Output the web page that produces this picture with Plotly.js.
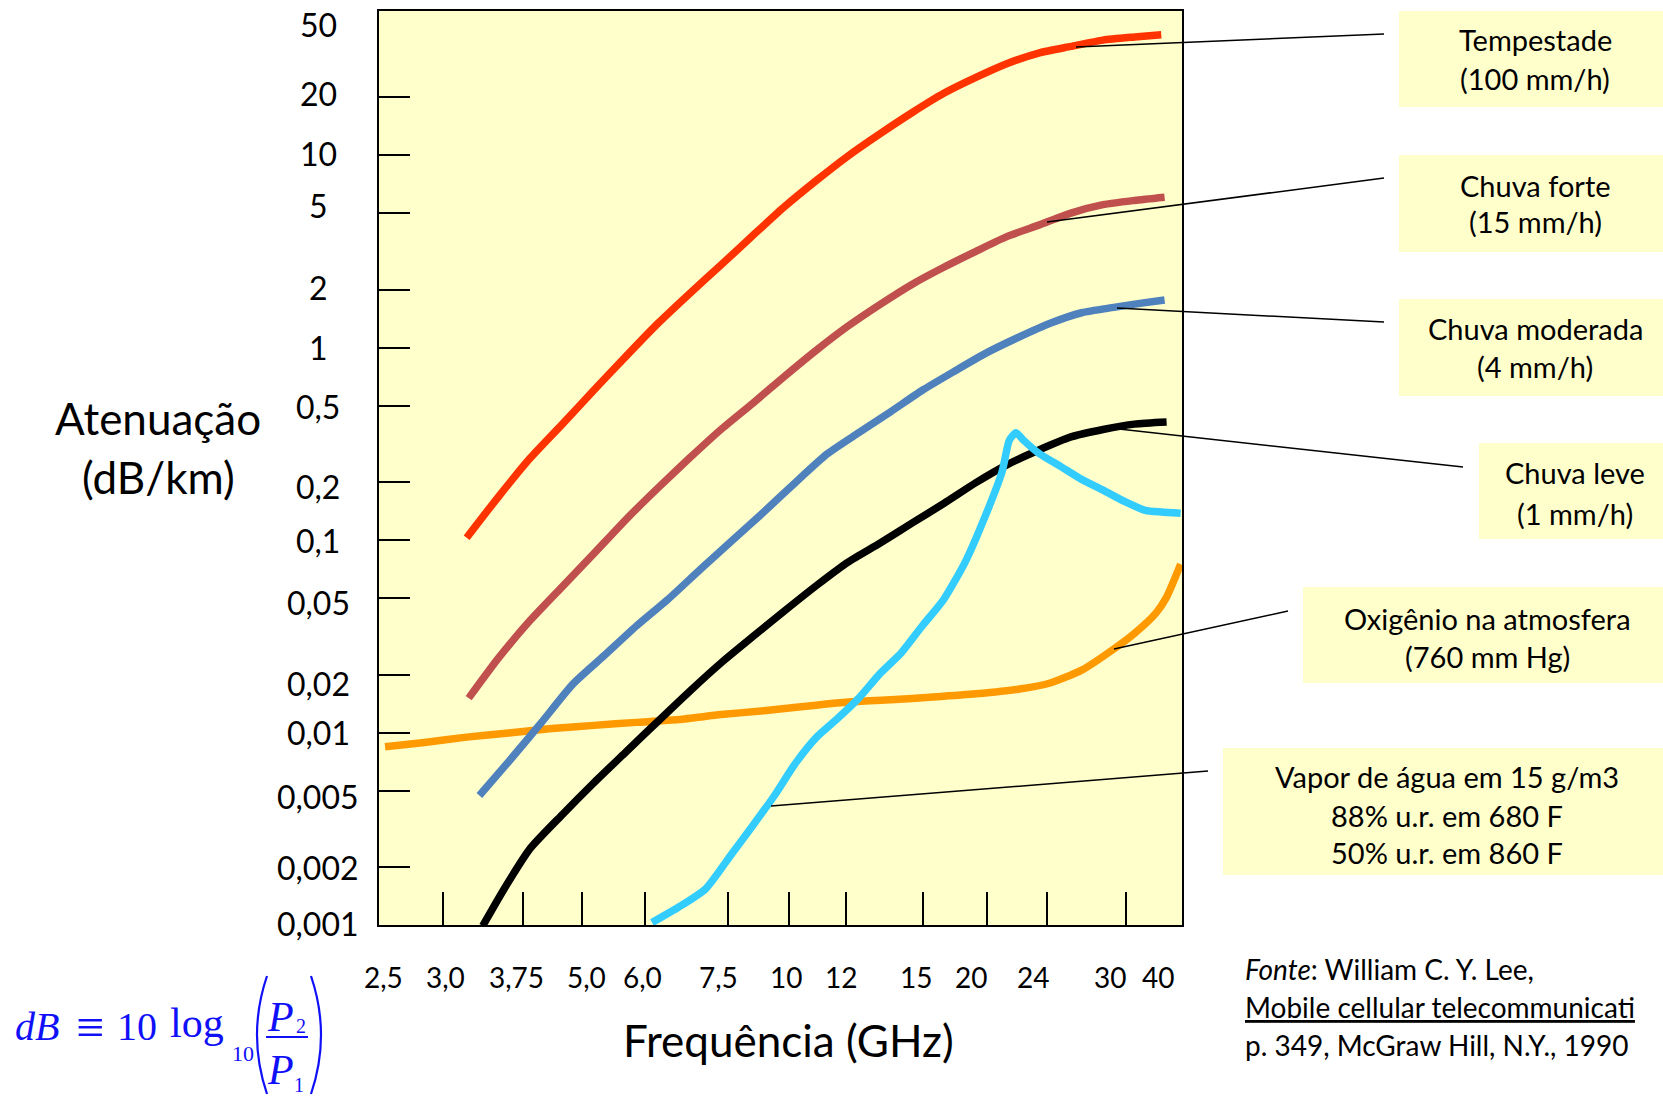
<!DOCTYPE html>
<html>
<head>
<meta charset="utf-8">
<script src="https://cdn.plot.ly/plotly-3.0.1.min.js"></script>
<style>html,body{margin:0;padding:0;background:#fff;}#chart{width:1663px;height:1096px;}</style>
</head>
<body>
<div id="chart"></div>
<script>
// ---------------- DATA ----------------
// x axis: ordinal frequency scale (position units, 2,5 GHz = 0 ... 40 GHz = 12)
const freqLabels = ['2,5','3,0','3,75','5,0','6,0','7,5','10','12','15','20','24','30','40'];
const yTickLabels = ['50','20','10','5','2','1','0,5','0,2','0,1','0,05','0,02','0,01','0,005','0,002','0,001'];
const yTickValues = [50,20,10,5,2,1,0.5,0.2,0.1,0.05,0.02,0.01,0.005,0.002,0.001];
const yMarkValues = [20,10,5,2,1,0.5,0.2,0.1,0.05,0.02,0.01,0.005,0.002];

const tempestadeX = [1.31,1.79,2.26,2.74,3.21,3.69,4.17,4.64,5.11,5.59,6.06,6.54,7.01,7.49,7.97,8.44,8.92,9.39,9.87,10.34,10.82,11.29,11.69];
const tempestadeY = [0.103,0.169,0.267,0.401,0.601,0.902,1.34,1.91,2.69,3.84,5.41,7.42,9.93,12.97,16.7,21.0,25.4,30.0,34.1,36.8,39.7,41.2,42.3];

const fortesX = [1.34,1.79,2.26,2.74,3.21,3.69,4.17,4.64,5.11,5.59,6.06,6.54,7.01,7.49,7.97,8.44,8.92,9.39,9.87,10.34,10.82,11.29,11.74];
const fortesY = [0.0151,0.0245,0.0383,0.0574,0.0851,0.128,0.187,0.267,0.376,0.516,0.710,0.973,1.296,1.681,2.14,2.62,3.17,3.79,4.35,5.01,5.54,5.83,6.06];

const moderadaX = [1.50,1.94,2.42,2.90,3.37,3.85,4.32,4.80,5.27,5.75,6.22,6.70,7.17,7.65,8.12,8.60,9.07,9.55,10.03,10.50,10.98,11.37,11.74];
const moderadaY = [0.00471,0.00708,0.0112,0.0179,0.0252,0.0359,0.0493,0.0704,0.0991,0.140,0.199,0.281,0.362,0.466,0.601,0.755,0.937,1.13,1.34,1.52,1.62,1.70,1.77];

const leveX = [1.55,1.87,2.26,2.74,3.21,3.69,4.17,4.64,5.11,5.59,6.06,6.54,7.01,7.49,7.97,8.44,8.92,9.39,9.87,10.34,10.82,11.29,11.77];
const leveY = [0.00099,0.00154,0.00250,0.00375,0.00548,0.00793,0.01146,0.01637,0.0230,0.0316,0.0429,0.0582,0.0769,0.0966,0.123,0.155,0.199,0.247,0.295,0.344,0.376,0.401,0.411];

const vaporX = [4.08,4.48,4.88,5.27,5.59,5.91,6.22,6.54,6.86,7.17,7.49,7.81,8.12,8.44,8.76,9.07,9.31,9.42,9.52,9.63,9.87,10.19,10.50,10.82,11.14,11.45,11.69,11.98];
const vaporY = [0.00103,0.00124,0.00154,0.00234,0.00330,0.00471,0.00690,0.00948,0.0119,0.0151,0.0203,0.0261,0.0359,0.0493,0.0769,0.136,0.226,0.331,0.362,0.331,0.281,0.241,0.207,0.182,0.159,0.143,0.140,0.138];

const oxigenioX = [0.09,0.68,1.31,1.94,2.58,3.21,3.85,4.48,5.11,5.75,6.38,7.01,7.65,8.28,8.92,9.55,10.03,10.50,10.98,11.29,11.61,11.77,11.98];
const oxigenioY = [0.00845,0.00889,0.00947,0.00996,0.0105,0.0109,0.0113,0.0117,0.0124,0.0130,0.0137,0.0144,0.0148,0.0153,0.0159,0.0168,0.0181,0.0211,0.0272,0.0328,0.0418,0.0506,0.0750];

const seriesNames = ['Tempestade (100 mm/h)','Chuva forte (15 mm/h)','Chuva moderada (4 mm/h)','Chuva leve (1 mm/h)','Oxigênio na atmosfera (760 mm Hg)','Vapor de água em 15 g/m3'];

// ---------------- LAYOUT HELPERS ----------------
const W = 1663, H = 1096;
const L = 379, R = 1182, T = 11, B = 925;
const px = X => (X - L) / (R - L);
const py = Y => (B - Y) / (B - T);
const FONT = 'Lato, "Open Sans", sans-serif';

// tick-mark and label positions of the hand-drawn axis (position units)
const xMarkPos = [0.95,2.15,3.04,3.98,5.21,6.12,6.98,8.13,9.09,9.98,11.17];
const xLabelPos = [0.06,0.99,2.05,3.10,3.94,5.08,6.08,6.90,8.02,8.85,9.77,10.93,11.64];
// small hand-placement offsets of the y labels in the original (pixels, up = +)
const yLabelShift = [-4,4,2,8,2,0,-1,-4,0,-4,-9,0,-6,0,2];

function line(x, y, color, name) {
  return {x: x, y: y, type: 'scatter', mode: 'lines', name: name,
          line: {color: color, width: 7.5, shape: 'spline', smoothing: 0.6},
          hoverinfo: 'name+y'};
}
const traces = [
  line(oxigenioX, oxigenioY, '#FF9900', seriesNames[4]),
  line(leveX, leveY, '#000000', seriesNames[3]),
  line(moderadaX, moderadaY, '#4F81BD', seriesNames[2]),
  line(fortesX, fortesY, '#C0504D', seriesNames[1]),
  line(tempestadeX, tempestadeY, '#FF3300', seriesNames[0]),
  line(vaporX, vaporY, '#33CCFF', seriesNames[5])
];

const annotations = [];
const shapes = [];
function txt(X, Y, text, size, opts) {
  const a = Object.assign({xref: 'paper', yref: 'paper', x: px(X), y: py(Y), text: text, showarrow: false,
    xanchor: 'center', yanchor: 'middle', font: {family: FONT, size: size, color: '#000'}}, opts || {});
  annotations.push(a);
}

// y tick labels (centered, as in the original)
yTickValues.forEach((v, i) => {
  annotations.push({xref: 'paper', yref: 'y', x: px(318), y: Math.log10(v), yshift: yLabelShift[i], text: yTickLabels[i],
    showarrow: false, xanchor: 'center', yanchor: 'middle', font: {family: FONT, size: 32, color: '#000'}});
});
// x tick labels
freqLabels.forEach((t, i) => {
  annotations.push({xref: 'x', yref: 'paper', x: xLabelPos[i], y: py(977), text: t,
    showarrow: false, xanchor: 'center', yanchor: 'middle', font: {family: FONT, size: 28, color: '#000'}});
});
// axis titles
txt(158, 418, 'Atenuação', 44);
txt(158, 477, '(dB/km)', 44);
txt(788, 1040, 'Frequência (GHz)', 44);

// label boxes with leader lines
const boxes = [
  {lines: ['Tempestade', '(100 mm/h)'], ly: [40, 79], x0: 1399, y0: 11, y1: 107, cx: 1535, lead: [1076,47,1384,34]},
  {lines: ['Chuva forte', '(15 mm/h)'], ly: [185, 222], x0: 1399, y0: 155, y1: 252, cx: 1535, lead: [1047,222,1384,178]},
  {lines: ['Chuva moderada', '(4 mm/h)'], ly: [328, 366], x0: 1399, y0: 299, y1: 396, cx: 1535, lead: [1117,308,1384,322]},
  {lines: ['Chuva leve', '(1 mm/h)'], ly: [473, 513], x0: 1479, y0: 443, y1: 539, cx: 1575, lead: [1119,429,1463,467]},
  {lines: ['Oxigênio na atmosfera', '(760 mm Hg)'], ly: [618, 656], x0: 1303, y0: 587, y1: 683, cx: 1487, lead: [1114,649,1288,611]},
  {lines: ['Vapor de água em 15 g/m3', '88% u.r. em 680 F', '50% u.r. em 860 F'], ly: [776, 815, 852], x0: 1223, y0: 748, y1: 875, cx: 1447, lead: [771,806,1208,771]}
];
boxes.forEach(b => {
  shapes.push({type: 'rect', xref: 'paper', yref: 'paper', x0: px(b.x0), x1: px(W), y0: py(b.y0), y1: py(b.y1),
    fillcolor: '#FFFFCC', line: {width: 0}, layer: 'below'});
  shapes.push({type: 'line', xref: 'paper', yref: 'paper', x0: px(b.lead[0]), y0: py(b.lead[1]),
    x1: px(b.lead[2]), y1: py(b.lead[3]), line: {color: '#000', width: 1.5}, layer: 'above'});
  b.lines.forEach((t, i) => txt(b.cx, b.ly[i], t, 29));
});

// source (second line is cut by the page edge in the original)
const src = ['<i>Fonte</i>: William C. Y. Lee,', '<u>Mobile cellular telecommunicati</u>', 'p. 349, McGraw Hill, N.Y., 1990'];
[969, 1007, 1045].forEach((yy, i) => txt(1243, yy, src[i], 28, {xanchor: 'left'}));

// dB formula
const BLUE = '#1010F8';
const SERIF = '"Liberation Serif", "DejaVu Serif", serif';
const sf = s => ({family: SERIF, size: s, color: BLUE});
txt(13, 1026, '<i>dB</i>', 40, {xanchor: 'left', font: sf(40)});
txt(90, 1027, '≡', 50, {font: sf(50)});
txt(137, 1026, '10', 40, {font: sf(40)});
txt(197, 1023, 'log', 42, {font: sf(42)});
txt(243, 1053, '10', 22, {font: sf(22)});
txt(280, 1017, '<i>P</i>', 42, {font: sf(42)});
txt(301, 1026, '2', 20, {font: sf(20)});
txt(280, 1070, '<i>P</i>', 42, {font: sf(42)});
txt(299, 1085, '1', 20, {font: sf(20)});
shapes.push({type: 'line', xref: 'paper', yref: 'paper', x0: px(266), x1: px(308), y0: py(1037), y1: py(1037),
  line: {color: BLUE, width: 2}});
shapes.push({type: 'path', xref: 'paper', yref: 'paper',
  path: `M ${px(267)} ${py(976)} Q ${px(247)} ${py(1035)} ${px(267)} ${py(1094)}`, line: {color: BLUE, width: 2.2}});
shapes.push({type: 'path', xref: 'paper', yref: 'paper',
  path: `M ${px(311)} ${py(976)} Q ${px(331)} ${py(1035)} ${px(311)} ${py(1094)}`, line: {color: BLUE, width: 2.2}});

const layout = {
  width: W, height: H, autosize: false,
  margin: {l: L, r: W - R, t: T, b: H - B, pad: 0},
  paper_bgcolor: '#FFFFFF', plot_bgcolor: '#FFFFCC',
  showlegend: false,
  font: {family: FONT, color: '#000'},
  xaxis: {type: 'linear', range: [0, 12], showgrid: false, zeroline: false,
    showline: true, mirror: true, linecolor: '#000', linewidth: 2,
    ticks: 'inside', ticklen: 33, tickwidth: 2, tickcolor: '#000',
    tickmode: 'array', tickvals: xMarkPos, showticklabels: false, fixedrange: true},
  yaxis: {type: 'log', range: [-3, 1.75], showgrid: false, zeroline: false,
    showline: true, mirror: true, linecolor: '#000', linewidth: 2,
    ticks: 'inside', ticklen: 31, tickwidth: 2, tickcolor: '#000',
    tickmode: 'array', tickvals: yMarkValues, showticklabels: false, fixedrange: true},
  annotations: annotations,
  shapes: shapes
};

Plotly.newPlot('chart', traces, layout, {displayModeBar: false, staticPlot: true});
</script>
</body>
</html>
